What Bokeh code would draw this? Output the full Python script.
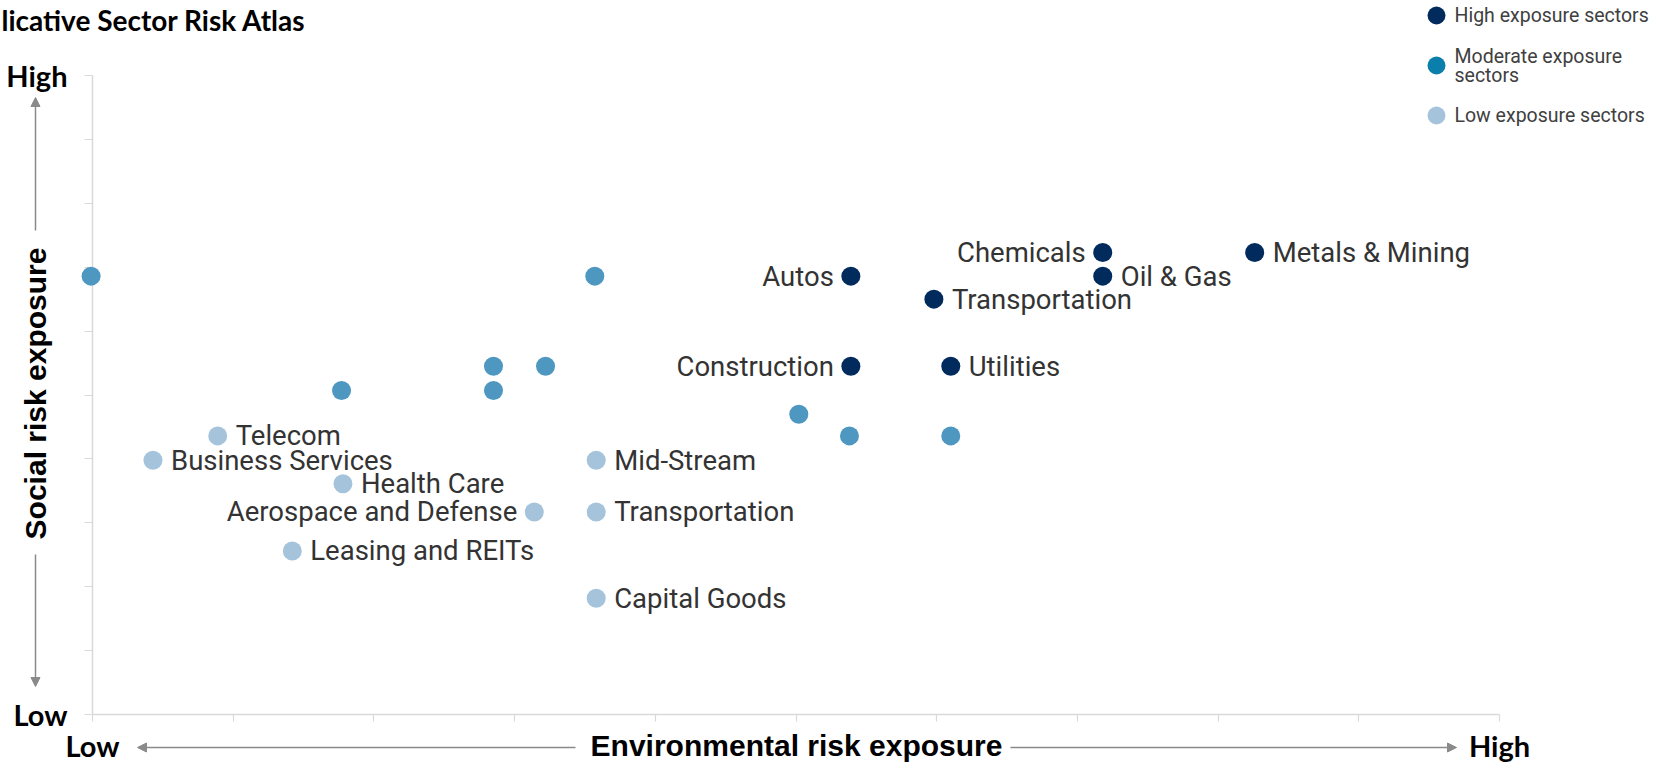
import math
from bokeh.plotting import figure
from bokeh.models import Range1d, FixedTicker, Label, LabelSet, Arrow, NormalHead, ColumnDataSource
from bokeh.core.properties import value
from bokeh.embed import file_html
from bokeh.resources import INLINE

# ---------------- data ----------------
TITLE = "licative Sector Risk Atlas"
X_TITLE = "Environmental risk exposure"
Y_TITLE = "Social risk exposure"
AXIS_TICKS = list(range(11))
AXIS_LOW, AXIS_HIGH = "Low", "High"

high_names = ["Chemicals", "Metals & Mining", "Autos", "Oil & Gas", "Transportation", "Construction", "Utilities"]
high_env = [7.18, 8.26, 5.39, 7.18, 5.98, 5.39, 6.10]
high_soc = [7.23, 7.23, 6.86, 6.86, 6.50, 5.45, 5.45]
high_side = ["left", "right", "left", "right", "right", "left", "right"]

mod_env = [-0.01, 3.57, 2.85, 3.22, 1.77, 2.85, 5.02, 5.38, 6.10]
mod_soc = [6.86, 6.86, 5.45, 5.45, 5.07, 5.07, 4.70, 4.36, 4.36]

low_names = ["Telecom", "Business Services", "Health Care", "Aerospace and Defense",
             "Leasing and REITs", "Mid-Stream", "Transportation", "Capital Goods"]
low_env = [0.89, 0.43, 1.78, 3.14, 1.42, 3.58, 3.58, 3.58]
low_soc = [4.36, 3.98, 3.61, 3.17, 2.56, 3.98, 3.17, 1.82]
low_side = ["right", "right", "right", "left", "right", "right", "right", "right"]

legend_names = ["High exposure sectors", "Moderate exposure", "sectors", "Low exposure sectors"]

# ---------------- layout / style ----------------
W, H = 1654, 764
X0_PX, X10_PX = 92, 1499      # canvas px of x = 0 and x = 10
Y0_PX, Y10_PX = 714, 75       # canvas px of y = 0 and y = 10


def dx(px):
    return (px - X0_PX) / (X10_PX - X0_PX) * 10.0


def dy(py):
    return (Y0_PX - py) / (Y0_PX - Y10_PX) * 10.0


C_HIGH = "#002b5c"
C_MOD = "#4d97c1"
C_LOW = "#a5c4dc"
C_MOD_LEG = "#0a7fab"
GREY = "#8a8a8a"
AXIS_GREY = "#d9d9d9"
LABEL_COLOR = "#333333"

p = figure(width=W, height=H, output_backend="svg", toolbar_location=None,
           x_range=Range1d(dx(0), dx(W)), y_range=Range1d(dy(H), dy(0)),
           x_axis_location="above", y_axis_location="right",
           min_border_left=0, min_border_right=0, min_border_top=0, min_border_bottom=0,
           background_fill_color="white", border_fill_color="white")
p.title.visible = False
p.outline_line_color = None
p.xgrid.visible = False
p.ygrid.visible = False

blank = {t: "" for t in AXIS_TICKS}
for ax, tick_len in [(p.xaxis[0], 7), (p.yaxis[0], 8)]:
    ax.fixed_location = 0
    ax.bounds = (0, 10)
    ax.ticker = FixedTicker(ticks=AXIS_TICKS)
    ax.major_label_overrides = blank
    ax.major_label_text_font_size = "0px"
    ax.major_label_standoff = 0
    ax.axis_line_color = AXIS_GREY
    ax.axis_line_width = 1.5
    ax.major_tick_line_color = AXIS_GREY
    ax.major_tick_line_width = 1.2
    ax.major_tick_in = tick_len
    ax.major_tick_out = 0
    ax.minor_tick_line_color = None

# ---------------- points ----------------
p.scatter(mod_env, mod_soc, size=19, fill_color=C_MOD, line_color=None, level="overlay")
p.scatter(low_env, low_soc, size=19, fill_color=C_LOW, line_color=None, level="overlay")
p.scatter(high_env, high_soc, size=19, fill_color=C_HIGH, line_color=None, level="overlay")


def add_labels(names, env, soc, side):
    for s, align, off in [("right", "left", 18), ("left", "right", -17)]:
        idx = [i for i, v in enumerate(side) if v == s]
        if not idx:
            continue
        src = ColumnDataSource(dict(x=[env[i] for i in idx], y=[soc[i] for i in idx],
                                    t=[names[i] for i in idx]))
        p.add_layout(LabelSet(x="x", y="y", text="t", source=src, x_offset=off, y_offset=0,
                              text_align=align, text_baseline="middle",
                              text_font=value("Roboto"), text_font_size="27.5px",
                              text_color=LABEL_COLOR))


add_labels(high_names, high_env, high_soc, high_side)
add_labels(low_names, low_env, low_soc, low_side)

# ---------------- axis end labels ----------------
end_font = dict(text_font="Lato", text_font_style="bold", text_font_size="29px",
                text_color="#000000", text_baseline="middle")
p.add_layout(Label(x=dx(67), y=10, text=AXIS_HIGH, text_align="right", **end_font))
p.add_layout(Label(x=dx(67), y=0, text=AXIS_LOW, text_align="right", **end_font))
p.add_layout(Label(x=0, y=dy(745), text=AXIS_LOW, text_align="center", **end_font))
p.add_layout(Label(x=10, y=dy(745), text=AXIS_HIGH, text_align="center", **end_font))

# ---------------- titles and arrows ----------------
p.add_layout(Label(x=dx(1), y=dy(19), text=TITLE, text_align="left", text_baseline="middle",
                   text_font="Lato", text_font_style="bold", text_font_size="28px",
                   text_color="#000000"))

p.add_layout(Label(x=dx(35), y=dy(393), text=Y_TITLE, angle=math.pi / 2,
                   text_align="center", text_baseline="middle",
                   text_font="Liberation Sans", text_font_style="bold",
                   text_font_size="30px", text_color="#000000"))

p.add_layout(Label(x=dx(796), y=dy(745), text=X_TITLE, text_align="center",
                   text_baseline="middle",
                   text_font="Liberation Sans", text_font_style="bold",
                   text_font_size="30px", text_color="#000000"))

for (x0, y0, x1, y1) in [(35, 230, 35, 97), (35, 554, 35, 686),
                         (575, 747, 137, 747), (1010, 747, 1456, 747)]:
    p.add_layout(Arrow(x_start=dx(x0), y_start=dy(y0), x_end=dx(x1), y_end=dy(y1),
                       line_color=GREY, line_width=1.5,
                       end=NormalHead(size=9, fill_color=GREY, line_color=GREY)))

# ---------------- legend ----------------
leg_x = 1436
leg_y = [15, 65, 115]
p.scatter([dx(leg_x)] * 3, [dy(v) for v in leg_y], size=18,
          fill_color=[C_HIGH, C_MOD_LEG, C_LOW], line_color=None, level="overlay")
leg_font = dict(text_font="Roboto", text_font_size="19.5px", text_color="#404040",
                text_align="left", text_baseline="middle")
tx = dx(leg_x + 18)
p.add_layout(Label(x=tx, y=dy(leg_y[0]), text=legend_names[0], **leg_font))
p.add_layout(Label(x=tx, y=dy(leg_y[1] - 9), text=legend_names[1], **leg_font))
p.add_layout(Label(x=tx, y=dy(leg_y[1] + 10), text=legend_names[2], **leg_font))
p.add_layout(Label(x=tx, y=dy(leg_y[2]), text=legend_names[3], **leg_font))

open("out.html", "w").write(file_html(p, INLINE))
